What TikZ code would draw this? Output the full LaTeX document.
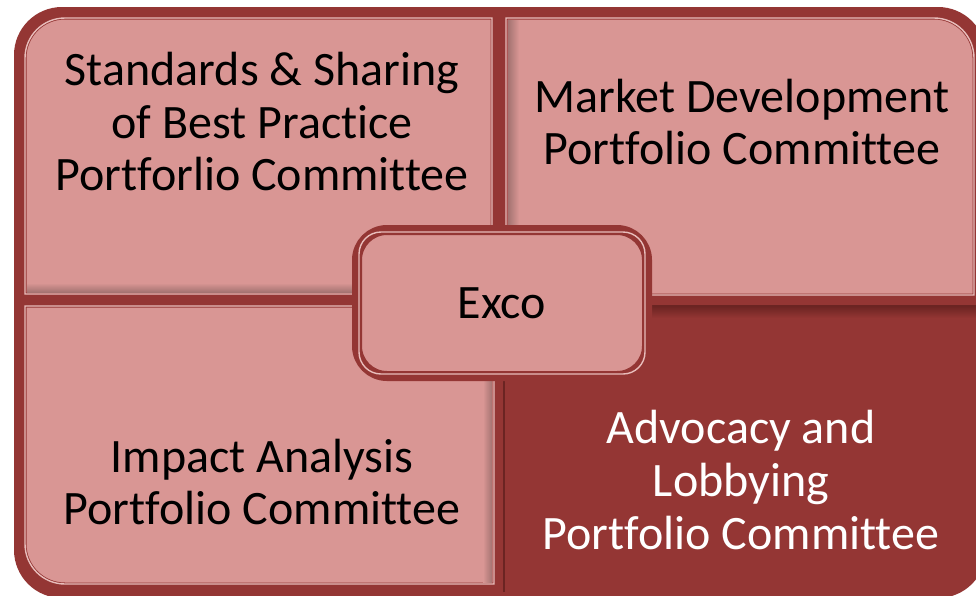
\documentclass[tikz,border=0pt]{standalone}
\usepackage{xcolor}
\usepackage{tikz}
\usepackage{fontspec}
\setmainfont{Carlito}[Ligatures=NoCommon]
\definecolor{exdark}{HTML}{943634}
\definecolor{expink}{HTML}{D99694}
\definecolor{exlight}{HTML}{E8BDBB}
\definecolor{exdeep}{HTML}{6B2422}
\definecolor{exshade}{HTML}{A47371}
\pgfdeclarelayer{background}
\pgfsetlayers{background,main}

\begin{document}
\begin{tikzpicture}[x=1pt,y=-1pt]

\tikzstyle{quad}=[align=center, inner sep=0pt, font=\fontsize{48}{52.5}\selectfont]
\tikzstyle{exco}=[draw=exdark, fill=expink, line width=10pt, rounded corners=30pt,
    minimum width=290pt, minimum height=146pt, font=\fontsize{48}{52.5}\selectfont]
\tikzstyle{tile}=[fill=expink, draw=exdark, double=exlight,
    line width=0.8pt, double distance=1.4pt]
\tikzstyle{rim}=[draw=exdark, double=exlight, line width=0.8pt,
    double distance=1.4pt, rounded corners=22pt]

\useasboundingbox (0,0) rectangle (976,595);

\node[exco] (exco) at (502,303) {Exco};
\draw[rim] ([shift={(7,7)}]exco.north west) rectangle ([shift={(-7,-7)}]exco.south east);

\node[quad] (stds) at ([shift={(-240,-181)}]exco.center)
    {Standards \& Sharing\\of Best Practice\\Portforlio Committee};
\node[quad] (market) at ([shift={(240,-181)}]exco.center)
    {Market Development\\Portfolio Committee};
\node[quad] (impact) at ([shift={(-240,179)}]exco.center)
    {Impact Analysis\\Portfolio Committee};
\node[quad,text=white] (advocacy) at ([shift={(239,177)}]exco.center)
    {Advocacy and\\Lobbying\\Portfolio Committee};

    \begin{pgfonlayer}{background}
        \clip (0,0) rectangle (976,595);
        \path[fill=exdark, rounded corners=48pt] (14,7) rectangle (986,598);

        % the three light tiles
        \path[tile] (25,294) -- (25,58) arc[start angle=180, end angle=270, radius=40]
            -- (492,18) -- (492,294) -- cycle;
        \path[tile] (506,295) -- (506,18) -- (934,18)
            arc[start angle=270, end angle=360, radius=40] -- (974,295) -- cycle;
        \path[tile] (25,306) -- (494,306) -- (494,584) -- (65,584)
            arc[start angle=90, end angle=180, radius=40] -- cycle;

        \shade[top color=expink, bottom color=exshade] (27,283) rectangle (490,292);
        \shade[left color=exshade, right color=expink] (508,20) rectangle (519,293);
        \shade[left color=expink, right color=exshade] (483,308) rectangle (492,582);
        \shade[top color=exdeep, bottom color=exdark] (505,306) rectangle (976,318);
        \draw[exdeep, line width=1.5pt] (504,592) -- (504,306) -- (976,306);
    \end{pgfonlayer}

\end{tikzpicture}
\end{document}
